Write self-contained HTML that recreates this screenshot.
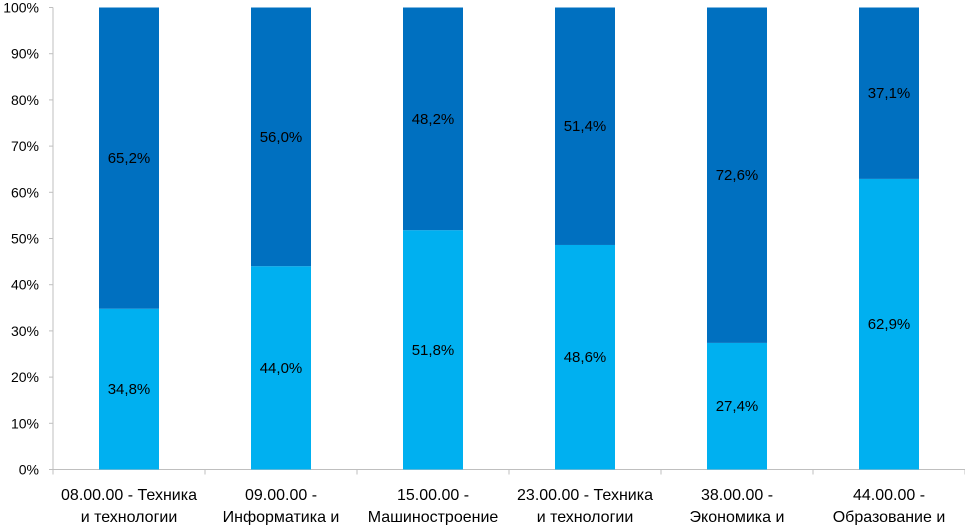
<!DOCTYPE html>
<html><head><meta charset="utf-8"><style>
body{margin:0;background:#fff;width:965px;height:525px;overflow:hidden}
svg text{font-family:"Liberation Sans",sans-serif;font-size:14px;fill:#000}
svg text.cat{font-size:16px}
svg text.val{font-size:15px}
</style></head><body>
<svg id="chart" width="965" height="525"></svg>
<script>
const categories=[["08.00.00 - Техника","и технологии","строительства"],["09.00.00 -","Информатика и","вычислительная"],["15.00.00 -","Машиностроение",""],["23.00.00 - Техника","и технологии","наземного"],["38.00.00 -","Экономика и","управление"],["44.00.00 -","Образование и","педагогические"]];
const lowerValues=[34.8,44.0,51.8,48.6,27.4,62.9];
const upperValues=[65.2,56.0,48.2,51.4,72.6,37.1];
const yTicks=[0,10,20,30,40,50,60,70,80,90,100];
const svg=document.getElementById('chart');
const NS='http://www.w3.org/2000/svg';
const x0=53,x1=965,y0=469.5,y1=7.5;
const bw=(x1-x0)/categories.length;
const y=v=>y0-(v/100)*(y0-y1);
const xc=i=>x0+bw*(i+0.5);
function mk(t,a){const e=document.createElementNS(NS,t);for(const k in a)e.setAttribute(k,a[k]);svg.appendChild(e);return e;}
let ax=mk('line',{x1:x0,y1:y1,x2:x0,y2:y0,stroke:'#bfbfbf'});


let bx=mk('line',{x1:x0,y1:y0,x2:x1,y2:y0,stroke:'#bfbfbf'});


yTicks.forEach(t=>{
 const l=mk('line',{x1:x0-4,y1:y(t),x2:x0,y2:y(t),stroke:'#bfbfbf'});
 
 
 const tx=mk('text',{x:x0-14,y:y(t)+5,'text-anchor':'end'});tx.textContent=t+'%';
 
 
});
for(let i=0;i<=categories.length;i++){
 const l=mk('line',{x1:x0+bw*i,y1:y0,x2:x0+bw*i,y2:y0+5,stroke:'#bfbfbf'});
 
 
}
const fmt=v=>v.toFixed(1).replace('.',',')+'%';
categories.forEach((c,i)=>{
 const bwid=60,bx0=xc(i)-bwid/2;
 const lo=lowerValues[i],up=upperValues[i];
 const r1=mk('rect',{x:bx0,y:y(lo),width:bwid,height:y0-y(lo),fill:'#00B0F0'});
 
 
 const r2=mk('rect',{x:bx0,y:y(lo+up),width:bwid,height:y(lo)-y(lo+up),fill:'#0070C0'});
 
 
 const t1=mk('text',{x:xc(i),y:y(lo/2)+5,'text-anchor':'middle','class':'val'});t1.textContent=fmt(lo);
 
 
 const t2=mk('text',{x:xc(i),y:y(lo+up/2)+5,'text-anchor':'middle','class':'val'});t2.textContent=fmt(up);
 
 
 c.forEach((line,j)=>{
  const t=mk('text',{x:xc(i),y:500+j*22,'text-anchor':'middle','class':'cat'});t.textContent=line;
  
  
 });
});
</script>
</body></html>
